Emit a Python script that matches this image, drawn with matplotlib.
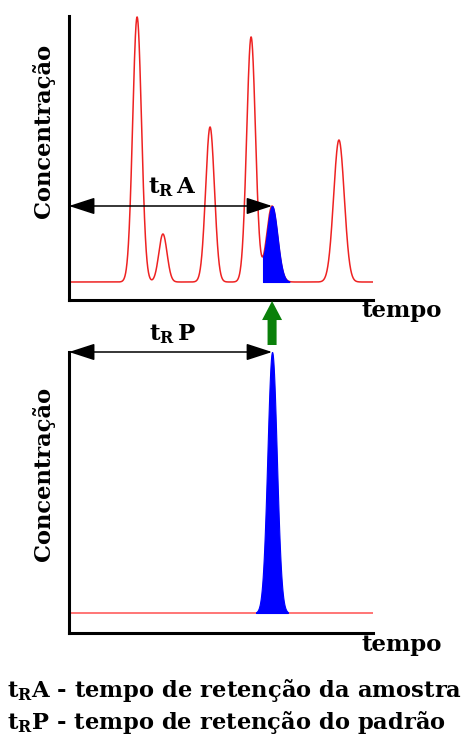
# Cromatograma: tempo de retenção da amostra x padrão
import numpy as np
import matplotlib
matplotlib.use('Agg')
import matplotlib.pyplot as plt
from matplotlib.transforms import blended_transform_factory

plt.rcParams['font.family'] = 'DejaVu Serif'
plt.rcParams['mathtext.fontset'] = 'dejavuserif'

# picos da amostra (vermelho): posição, altura, largura
picos_pos = [2.24, 3.09, 4.64, 5.99, 8.88]
picos_alt = [265, 48, 155, 245, 142]
picos_sig = [0.145, 0.135, 0.145, 0.145, 0.175]

# pico de interesse (azul) na amostra
amostra_pos = 6.68
amostra_alt = 76
amostra_sig = 0.18
amostra_ini = 6.38   # início do preenchimento azul
amostra_fim = 7.25

# pico do padrão
padrao_pos = 6.68
padrao_alt = 261
padrao_sig = 0.155
padrao_ini = 6.15
padrao_fim = 7.2

vermelho = '#ee2222'
azul = '#0000ff'
verde = '#0a800a'

t = np.linspace(0, 10, 3000)


def gauss(pos, alt, sig):
    return alt * np.exp(-(t - pos) ** 2 / (2 * sig ** 2))


def eixos(ax, ymin, ymax):
    ax.set_xlim(0, 10)
    ax.set_ylim(ymin, ymax)
    ax.set_xticks([])
    ax.set_yticks([])
    ax.spines['top'].set_visible(False)
    ax.spines['right'].set_visible(False)
    ax.spines['left'].set_linewidth(2.2)
    ax.spines['bottom'].set_linewidth(2.2)
    ax.patch.set_alpha(0)


fig = plt.figure(figsize=(4.71, 7.37), dpi=100)

# ---- amostra ----
ax1 = fig.add_axes([69 / 471, 1 - 300 / 737, 304 / 471, 284 / 737])
eixos(ax1, -18, 266)
sinal = np.zeros_like(t)
for p, a, s in zip(picos_pos, picos_alt, picos_sig):
    sinal += gauss(p, a, s)
azul1 = gauss(amostra_pos, amostra_alt, amostra_sig)
total = sinal + azul1
ax1.plot(t, total, color=vermelho, lw=1.1)
m = (t >= amostra_ini) & (t <= amostra_fim)
ax1.fill_between(t[m], 0, total[m], color=azul, lw=0.8, zorder=3)

ax1.annotate('', xy=(amostra_pos, amostra_alt), xytext=(0, amostra_alt),
             arrowprops=dict(arrowstyle='<|-|>,head_length=0.4,head_width=0.13',
                             mutation_scale=40, color='black', lw=1.1,
                             shrinkA=0, shrinkB=0), annotation_clip=False)
ax1.annotate(r'$\mathbf{t}_\mathbf{R}\,\mathbf{A}$', xy=(amostra_pos / 2 + 0.05, amostra_alt),
             xytext=(0, 5), textcoords='offset points', ha='center', va='bottom',
             fontsize=16.5, fontweight='bold')
ax1.text(-0.0855, 0.595, 'Concentração', transform=ax1.transAxes, rotation=90,
         ha='center', va='center', fontsize=16.3, fontweight='bold')
ax1.text(1.095, -0.04, 'tempo', transform=ax1.transAxes, ha='center', va='center',
         fontsize=16.5, fontweight='bold')

# ---- padrão ----
ax2 = fig.add_axes([69 / 471, 1 - 633 / 737, 304 / 471, 281 / 737])
eixos(ax2, -20, 261)
azul2 = gauss(padrao_pos, padrao_alt, padrao_sig)
ax2.plot(t, np.zeros_like(t), color='#ff5050', lw=1.1)
m2 = (t >= padrao_ini) & (t <= padrao_fim)
ax2.fill_between(t[m2], 0, azul2[m2], color=azul, lw=0.8, zorder=3)

ax2.annotate('', xy=(padrao_pos, padrao_alt), xytext=(0, padrao_alt),
             arrowprops=dict(arrowstyle='<|-|>,head_length=0.4,head_width=0.13',
                             mutation_scale=40, color='black', lw=1.1,
                             shrinkA=0, shrinkB=0), annotation_clip=False)
ax2.annotate(r'$\mathbf{t}_\mathbf{R}\,\mathbf{P}$', xy=(padrao_pos / 2 + 0.05, padrao_alt),
             xytext=(0, 4), textcoords='offset points', ha='center', va='bottom',
             fontsize=16.5, fontweight='bold', annotation_clip=False)
ax2.text(-0.0855, 0.566, 'Concentração', transform=ax2.transAxes, rotation=90,
         ha='center', va='center', fontsize=16.3, fontweight='bold')
ax2.text(1.095, -0.043, 'tempo', transform=ax2.transAxes, ha='center', va='center',
         fontsize=16.5, fontweight='bold')

# seta verde ligando os dois picos
tr = blended_transform_factory(ax1.transData, fig.transFigure)
ax1.annotate('', xy=(amostra_pos, 1 - 301 / 737), xycoords=tr,
             xytext=(amostra_pos, 1 - 345 / 737), textcoords=tr,
             arrowprops=dict(arrowstyle='simple,head_length=1.37,head_width=1.44,tail_width=0.65',
                             mutation_scale=10, color=verde, lw=0,
                             shrinkA=0, shrinkB=0), annotation_clip=False)

# legenda
fig.text(7 / 471, 1 - 690 / 737, r'$\mathbf{t}_\mathbf{R}\mathbf{A}$ - tempo de retenção da amostra',
         ha='left', va='center', fontsize=16.3, fontweight='bold')
fig.text(7 / 471, 1 - 722 / 737, r'$\mathbf{t}_\mathbf{R}\mathbf{P}$ - tempo de retenção do padrão',
         ha='left', va='center', fontsize=16.3, fontweight='bold')

fig.savefig('out.png', dpi=100)
